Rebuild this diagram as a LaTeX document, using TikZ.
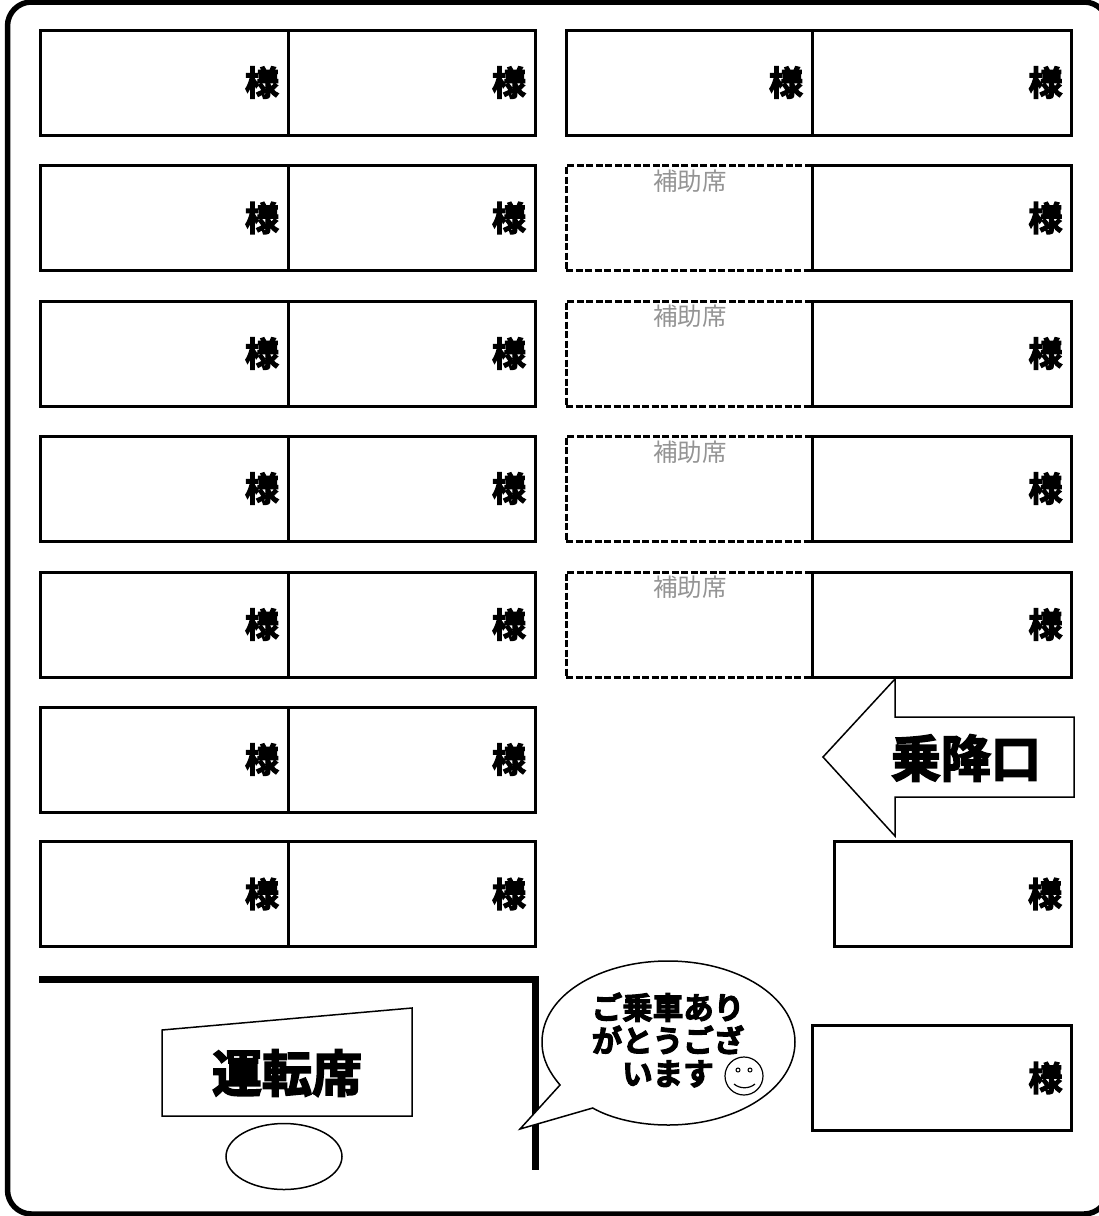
\documentclass[tikz,border=0pt]{standalone}
\usepackage{fontspec}
\usepackage{tikz}
\usetikzlibrary{positioning,shapes.geometric}
\newfontfamily\cjkfat[FakeBold=3.5]{Noto Sans CJK JP Bold}
\newfontfamily\cjkthin{Noto Sans CJK JP}
\tikzset{
  seatbox/.style={draw=black, line width=3pt, fill=white, minimum height=105pt, text width=#1, align=right, inner xsep=9pt, inner ysep=0pt, font=\cjkfat\fontsize{34pt}{34pt}\selectfont},
  extrabox/.style={draw=black, line width=3pt, dash pattern=on 7pt off 2.5pt, minimum width=246pt, minimum height=105pt},
  extralabel/.style={text=black!42, inner sep=0pt, font=\cjkthin\fontsize{24.5pt}{24.5pt}\selectfont},
  shapeline/.style={draw=black, line width=1.5pt, fill=white},
  bigword/.style={inner sep=0pt, font=\cjkfat\fontsize{50pt}{50pt}\selectfont}
}
\begin{document}
\begin{tikzpicture}[x=1pt, y=-1pt]
        \useasboundingbox (0,0) rectangle (1099,1216);
        \draw[black, line width=5.5pt, rounded corners=24pt] (7.5,2) -- (1108,2) -- (1108,1214) -- (7.5,1214) -- cycle;
        % left column
        \node[seatbox=230pt] (a1) at (164,82.5) {様};
        \node[seatbox=229pt] (b1) at (411.5,82.5) {様};
        \node[seatbox=230pt] (a2) at (164,218) {様};
        \node[seatbox=229pt] (b2) at (411.5,218) {様};
        \node[seatbox=230pt] (a3) at (164,353.5) {様};
        \node[seatbox=229pt] (b3) at (411.5,353.5) {様};
        \node[seatbox=230pt] (a4) at (164,488.5) {様};
        \node[seatbox=229pt] (b4) at (411.5,488.5) {様};
        \node[seatbox=230pt] (a5) at (164,624.5) {様};
        \node[seatbox=229pt] (b5) at (411.5,624.5) {様};
        \node[seatbox=230pt] (a6) at (164,759.5) {様};
        \node[seatbox=229pt] (b6) at (411.5,759.5) {様};
        \node[seatbox=230pt] (a7) at (164,894) {様};
        \node[seatbox=229pt] (b7) at (411.5,894) {様};
        % right column
        \node[seatbox=228pt] (c1) at (689,82.5) {様};
        \node[seatbox=241pt] (d1) at (942,82.5) {様};
        \node[extrabox] (c2) at (689,218) {};
        \node[seatbox=241pt] (d2) at (942,218) {様};
        \node[extrabox] (c3) at (689,353.5) {};
        \node[seatbox=241pt] (d3) at (942,353.5) {様};
        \node[extrabox] (c4) at (689,488.5) {};
        \node[seatbox=241pt] (d4) at (942,488.5) {様};
        \node[extrabox] (c5) at (689,624.5) {};
        \node[seatbox=241pt] (d5) at (942,624.5) {様};
        \node[seatbox=219pt] (d7) at (952.5,894) {様};
        \node[seatbox=241pt] (d8) at (942,1078) {様};
        \node[extralabel] (e2) at (690,181) {補助席};
        \node[extralabel] (e3) at (690,316) {補助席};
        \node[extralabel] (e4) at (690,452) {補助席};
        \node[extralabel] (e5) at (690,587) {補助席};
        % door arrow
        \draw[shapeline] (823,757) -- (895,679) -- (895,717) -- (1074,717) -- (1074,797) -- (895,797) -- (895,836) -- cycle;
        \node[bigword] (door) at (966,758) {乗降口};
        % driver area
        \draw[black, line width=7pt] (39,979) -- (535.5,979) -- (535.5,1170);
        \draw[shapeline] (162,1030) -- (412,1008) -- (412,1116) -- (162,1116) -- cycle;
        \node[bigword] (driver) at (287,1073) {運転席};
        \node[draw=black, line width=1.5pt, ellipse, minimum width=116pt, minimum height=66pt, inner sep=0pt] (wheel) at (284,1156.5) {};
        % speech balloon
        \draw[shapeline] (560,1085) .. controls (550,1073) and (542,1060) .. (542,1042) .. controls (542,995) and (600,961) .. (668,961) .. controls (738,961) and (795,997) .. (795,1042) .. controls (795,1088) and (738,1125) .. (668,1125) .. controls (640,1125) and (612,1119) .. (592.7,1108) -- (520,1129) -- cycle;
        \node[inner sep=0pt, align=center, font=\cjkfat\fontsize{30.5pt}{33pt}\selectfont] (thanks) at (668,1040) {ご乗車あり\\がとうござ\\います};
        \node[circle, draw=black, line width=1.2pt, minimum width=38pt, inner sep=0pt] (smile) at (744,1076) {};
        \node[circle, draw=black, line width=1pt, minimum width=4pt, inner sep=0pt] (eyel) at (738,1070) {};
        \node[circle, draw=black, line width=1pt, minimum width=4pt, inner sep=0pt] (eyer) at (750,1070) {};
        \draw[black, line width=1.2pt] (734,1084) .. controls (740,1089) and (749,1089) .. (755,1084);
    \end{tikzpicture}
\end{document}
